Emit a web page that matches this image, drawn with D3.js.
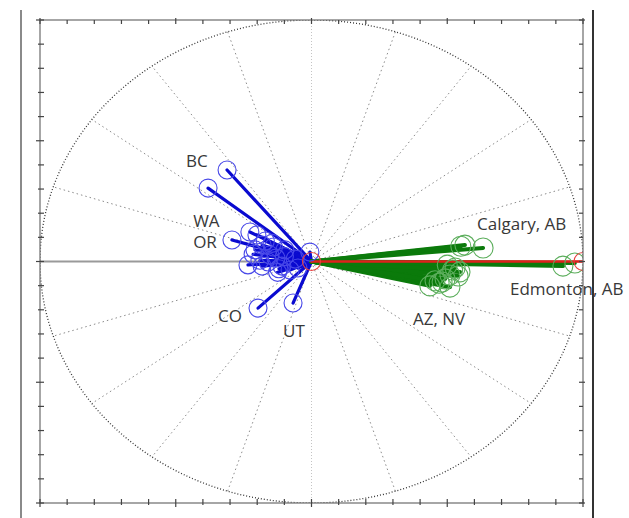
<!DOCTYPE html>
<html>
<head>
<meta charset="utf-8">
<script src="https://cdn.jsdelivr.net/npm/d3@7"></script>
<style>
  body { margin: 0; background: #fff; }
  svg { display: block; }
  .lbl { font-family: "Open Sans", sans-serif; font-size: 17px; fill: #383838; }
</style>
</head>
<body>
<svg id="chart" width="629" height="518"></svg>
<script>
// loading vectors, normalised to the unit circle
const blueX = [-0.311, -0.381, -0.227, -0.293, -0.201, -0.234, -0.182, -0.208, -0.182, -0.153,
               -0.160, -0.131, -0.109, -0.079, -0.050, -0.098, -0.006, -0.197, -0.068, -0.140,
               -0.120, -0.215, -0.170, -0.145, -0.190, -0.100, -0.060, -0.125];
const blueY = [0.379, 0.304, 0.122, 0.089, 0.110, -0.014, -0.019, 0.048, 0.068, 0.027,
               -0.002, 0.014, -0.019, -0.035, -0.027, 0.048, 0.039, -0.193, -0.172, 0.060,
               -0.030, 0.030, 0.085, 0.075, 0.005, 0.020, 0.010, -0.045];

const greenX = [0.565, 0.632, 0.529, 0.547, 0.510, 0.492, 0.436, 0.510, 0.481, 0.540,
                0.926, 0.970, 0.500, 0.520, 0.470, 0.455, 0.550];
const greenY = [0.068, 0.056, -0.027, -0.043, -0.056, -0.072, -0.101, -0.106, -0.085, -0.060,
                -0.019, -0.006, -0.015, -0.035, -0.090, -0.080, 0.063];

const redX = [0, 1.0];
const redY = [0, 0];

const labelText = ["BC", "WA", "OR", "CO", "UT", "Calgary, AB", "Edmonton, AB", "AZ, NV"];
const labelX = [-0.462, -0.436, -0.436, -0.344, -0.105, 0.610, 0.731, 0.374];
const labelY = [0.391, 0.143, 0.056, -0.251, -0.313, 0.130, -0.139, -0.263];

const svg = d3.select("#chart");
const fL = 40, fR = 583, fT = 20, fB = 503;
const x = d3.scaleLinear().domain([-1, 1]).range([fL, fR]);
const y = d3.scaleLinear().domain([-1, 1]).range([fB, fT]);

// outer rules
svg.append("line").attr("x1", 21).attr("x2", 21).attr("y1", 10).attr("y2", 518)
  .attr("stroke", "#8a8a8a").attr("stroke-width", 2);
svg.append("line").attr("x1", 593).attr("x2", 593).attr("y1", 10).attr("y2", 518)
  .attr("stroke", "#333").attr("stroke-width", 2);

svg.append("clipPath").attr("id", "clip").append("rect")
  .attr("x", fL).attr("y", fT).attr("width", fR - fL).attr("height", fB - fT);

const g = svg.append("g").attr("clip-path", "url(#clip)");

// radial grid, every 18 degrees
const angles = d3.range(1, 20).map(k => k * 18).filter(a => a !== 90 && a !== 270 && a !== 180);
g.selectAll(".ray").data(angles).enter().append("line")
  .attr("x1", x(0)).attr("y1", y(0))
  .attr("x2", a => x(Math.cos(a * Math.PI / 180)))
  .attr("y2", a => y(Math.sin(a * Math.PI / 180)))
  .attr("stroke", "#8c8c8c").attr("stroke-width", 1)
  .attr("stroke-dasharray", "1.5,3");

g.append("line").attr("x1", x(0)).attr("x2", x(0)).attr("y1", y(1)).attr("y2", y(-1))
  .attr("stroke", "#c4c4c4").attr("stroke-width", 1).attr("stroke-dasharray", "1,2");

g.append("ellipse").attr("cx", x(0)).attr("cy", y(0))
  .attr("rx", x(1) - x(0)).attr("ry", y(0) - y(1))
  .attr("fill", "none").attr("stroke", "#333").attr("stroke-width", 1.3)
  .attr("stroke-dasharray", "1,2");

g.append("line").attr("x1", x(-1)).attr("x2", x(1)).attr("y1", y(0)).attr("y2", y(0))
  .attr("stroke", "#9a9a9a").attr("stroke-width", 2);

// frame and ticks
svg.append("rect").attr("x", fL).attr("y", fT).attr("width", fR - fL).attr("height", fB - fT)
  .attr("fill", "none").attr("stroke", "#777").attr("stroke-width", 1.3);

const tickVals = d3.range(-10, 11).map(i => i / 10);
const isMajor = v => Math.abs(v * 2 - Math.round(v * 2)) < 1e-6;
const tk = svg.append("g").attr("stroke", "#444").attr("stroke-width", 1.2);
tickVals.forEach(v => {
  const m = isMajor(v);
  tk.append("line").attr("x1", x(v)).attr("x2", x(v)).attr("y1", fT - (m ? 2 : 0)).attr("y2", fT + 4);
  tk.append("line").attr("x1", x(v)).attr("x2", x(v)).attr("y1", fB - 4).attr("y2", fB + (m ? 4 : 2));
  tk.append("line").attr("y1", y(v)).attr("y2", y(v)).attr("x1", fL - (m ? 4 : 2)).attr("x2", fL + 4);
  tk.append("line").attr("y1", y(v)).attr("y2", y(v)).attr("x1", fR - 4).attr("x2", fR + (m ? 2 : 0));
});

// vectors
function vectors(xs, ys, lineColor, width) {
  g.append("g").selectAll("line").data(xs).enter().append("line")
    .attr("x1", x(0)).attr("y1", y(0))
    .attr("x2", (d) => x(d)).attr("y2", (d, i) => y(ys[i]))
    .attr("stroke", lineColor).attr("stroke-width", width).attr("stroke-linecap", "round");
}
function markers(xs, ys, color, r) {
  g.append("g").selectAll("circle").data(xs).enter().append("circle")
    .attr("cx", (d) => x(d)).attr("cy", (d, i) => y(ys[i])).attr("r", r)
    .attr("fill", "none").attr("stroke", color).attr("stroke-width", 1.1);
}
vectors(blueX, blueY, "#0a0ad0", 3.2);
vectors(greenX, greenY, "#0b7a0b", 4);
vectors(redX, redY, "#e0201c", 2.5);
markers(blueX, blueY, "#4848e8", 9);
markers(greenX, greenY, "#5cae5c", 10);
markers(redX, redY, "#e84040", 9);

svg.selectAll(".lbl").data(labelText).enter().append("text")
  .attr("class", "lbl")
  .attr("x", (d, i) => x(labelX[i])).attr("y", (d, i) => y(labelY[i]))
  .text(d => d);
</script>
</body>
</html>
